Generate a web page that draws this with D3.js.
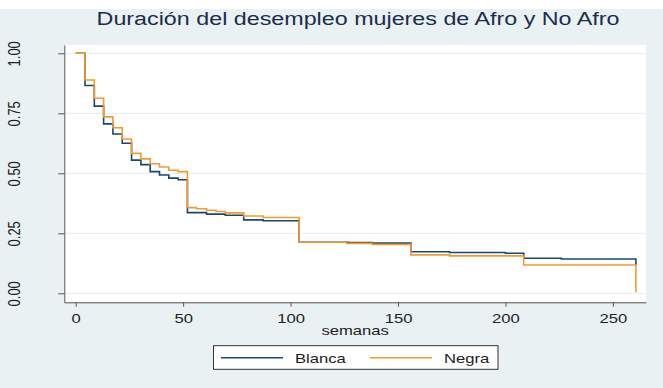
<!DOCTYPE html>
<html><head><meta charset="utf-8">
<script src="https://cdn.jsdelivr.net/npm/d3@7/dist/d3.min.js"></script>
<style>
html,body{margin:0;padding:0;background:#fff;}
svg{display:block;font-family:"Liberation Sans",Arial,sans-serif;}
</style></head>
<body>
<svg id="chart" width="663" height="388"></svg>
<script>
// ---- data ----
const title = "Duración del desempleo mujeres de Afro y No Afro";
const xLabel = "semanas";
const seriesNames = ["Blanca", "Negra"];
const xTicks = [0, 50, 100, 150, 200, 250];
const yTicks = [0, 0.25, 0.5, 0.75, 1];
const yTickLabels = ["0.00", "0.25", "0.50", "0.75", "1.00"];

const blancaWeeks = [0, 4.33, 8.67, 13, 17.33, 21.67, 26, 30.33, 34.67, 39, 43.33, 47.67, 52, 60.9, 69.6, 78.2, 87.2, 104, 127, 138, 156, 174, 200, 208.5, 226, 260.7];
const blancaSurv  = [1, 0.866, 0.780, 0.706, 0.664, 0.625, 0.555, 0.536, 0.507, 0.493, 0.480, 0.473, 0.336, 0.330, 0.325, 0.306, 0.302, 0.213, 0.211, 0.209, 0.173, 0.170, 0.167, 0.146, 0.143, 0.118];
const negraWeeks  = [0, 4.33, 8.67, 13, 17.33, 21.67, 26, 30.33, 34.67, 39, 43.33, 47.67, 52, 56.2, 60.9, 65.3, 69.6, 78.2, 87.2, 104, 126, 138, 156, 174, 208.5, 260.7];
const negraSurv   = [1, 0.889, 0.813, 0.735, 0.690, 0.643, 0.583, 0.560, 0.540, 0.526, 0.513, 0.507, 0.357, 0.352, 0.346, 0.341, 0.335, 0.322, 0.316, 0.213, 0.208, 0.204, 0.160, 0.156, 0.118, 0.004];

// ---- styles ----
const colors = ["#1a476f", "#f39a2d"];
const bg = "#e9f1f3";
const gridCol = "#e9f1f3";
const axisCol = "#555";
const textCol = "#222";
const stretch = 1.28;

const svg = d3.select("#chart");
svg.append("rect").attr("x",0).attr("y",0).attr("width",663).attr("height",388).attr("fill",bg);
svg.append("rect").attr("x",0).attr("y",0).attr("width",663).attr("height",9).attr("fill","#fff");

const x = d3.scaleLinear().domain([-5.3, 265.4]).range([64.3, 646]);
const y = d3.scaleLinear().domain([-0.0375, 1.0346]).range([302.3, 45]);

// plot region
svg.append("rect").attr("x",64.3).attr("y",45).attr("width",646-64.3).attr("height",302.3-45).attr("fill","#fff");

// gridlines
svg.append("g").selectAll("line").data(yTicks).join("line")
  .attr("x1",64.3).attr("x2",646)
  .attr("y1",d=>y(d)).attr("y2",d=>y(d))
  .attr("stroke",gridCol).attr("stroke-width",1.2);

// title
svg.append("text").text(title)
  .attr("text-anchor","middle")
  .attr("transform",`translate(358,25) scale(${stretch},1)`)
  .attr("font-size",18.2).attr("fill","#1c2d4a");

// x axis
const gx = svg.append("g").attr("transform","translate(0,302.3)")
  .call(d3.axisBottom(x).tickValues(xTicks).tickSize(4.4).tickSizeOuter(0).tickFormat(d3.format("d")));
gx.select(".domain").attr("stroke",axisCol);
gx.selectAll(".tick line").attr("stroke",axisCol);
gx.selectAll(".tick text").attr("y",null).attr("dy",null)
  .attr("transform",`translate(0,20.4) scale(${stretch},1)`)
  .attr("font-size",13).attr("fill",textCol).attr("font-family","Liberation Sans, Arial, sans-serif");

svg.append("text").text(xLabel).attr("text-anchor","middle")
  .attr("transform",`translate(${(64.3+646)/2},334.5) scale(${stretch},1)`)
  .attr("font-size",13).attr("fill",textCol);

// y axis
const gy = svg.append("g").attr("transform","translate(64.3,0)")
  .call(d3.axisLeft(y).tickValues(yTicks).tickSize(6).tickSizeOuter(0).tickFormat((d,i)=>yTickLabels[i]));
gy.select(".domain").attr("stroke",axisCol);
gy.selectAll(".tick line").attr("stroke",axisCol);
gy.selectAll(".tick text").attr("x",null).attr("dy",null).attr("text-anchor","middle")
  .attr("transform",`translate(${20-64.3},0) scale(${stretch},1) rotate(-90)`)
  .attr("font-size",13).attr("fill",textCol).attr("font-family","Liberation Sans, Arial, sans-serif");

// survival curves
const line = d3.line().x(d=>x(d[0])).y(d=>y(d[1])).curve(d3.curveStepAfter);
const series = [
  d3.zip(blancaWeeks, blancaSurv),
  d3.zip(negraWeeks, negraSurv)
];
svg.append("g").selectAll("path").data(series).join("path")
  .attr("d",line).attr("fill","none")
  .attr("stroke",(d,i)=>colors[i]).attr("stroke-width",1.6);

// legend
const lg = svg.append("g");
lg.append("rect").attr("x",213.5).attr("y",345.7).attr("width",498-213.5).attr("height",369.3-345.7)
  .attr("fill","#fff").attr("stroke","#333").attr("stroke-width",1);
const legX = [221, 370];
seriesNames.forEach((name,i)=>{
  lg.append("line").attr("x1",legX[i]).attr("x2",legX[i]+62).attr("y1",357.7).attr("y2",357.7)
    .attr("stroke",colors[i]).attr("stroke-width",1.6);
  lg.append("text").text(name)
    .attr("transform",`translate(${legX[i]+74},363) scale(${stretch},1)`)
    .attr("font-size",13).attr("fill",textCol);
});
</script>
</body></html>
